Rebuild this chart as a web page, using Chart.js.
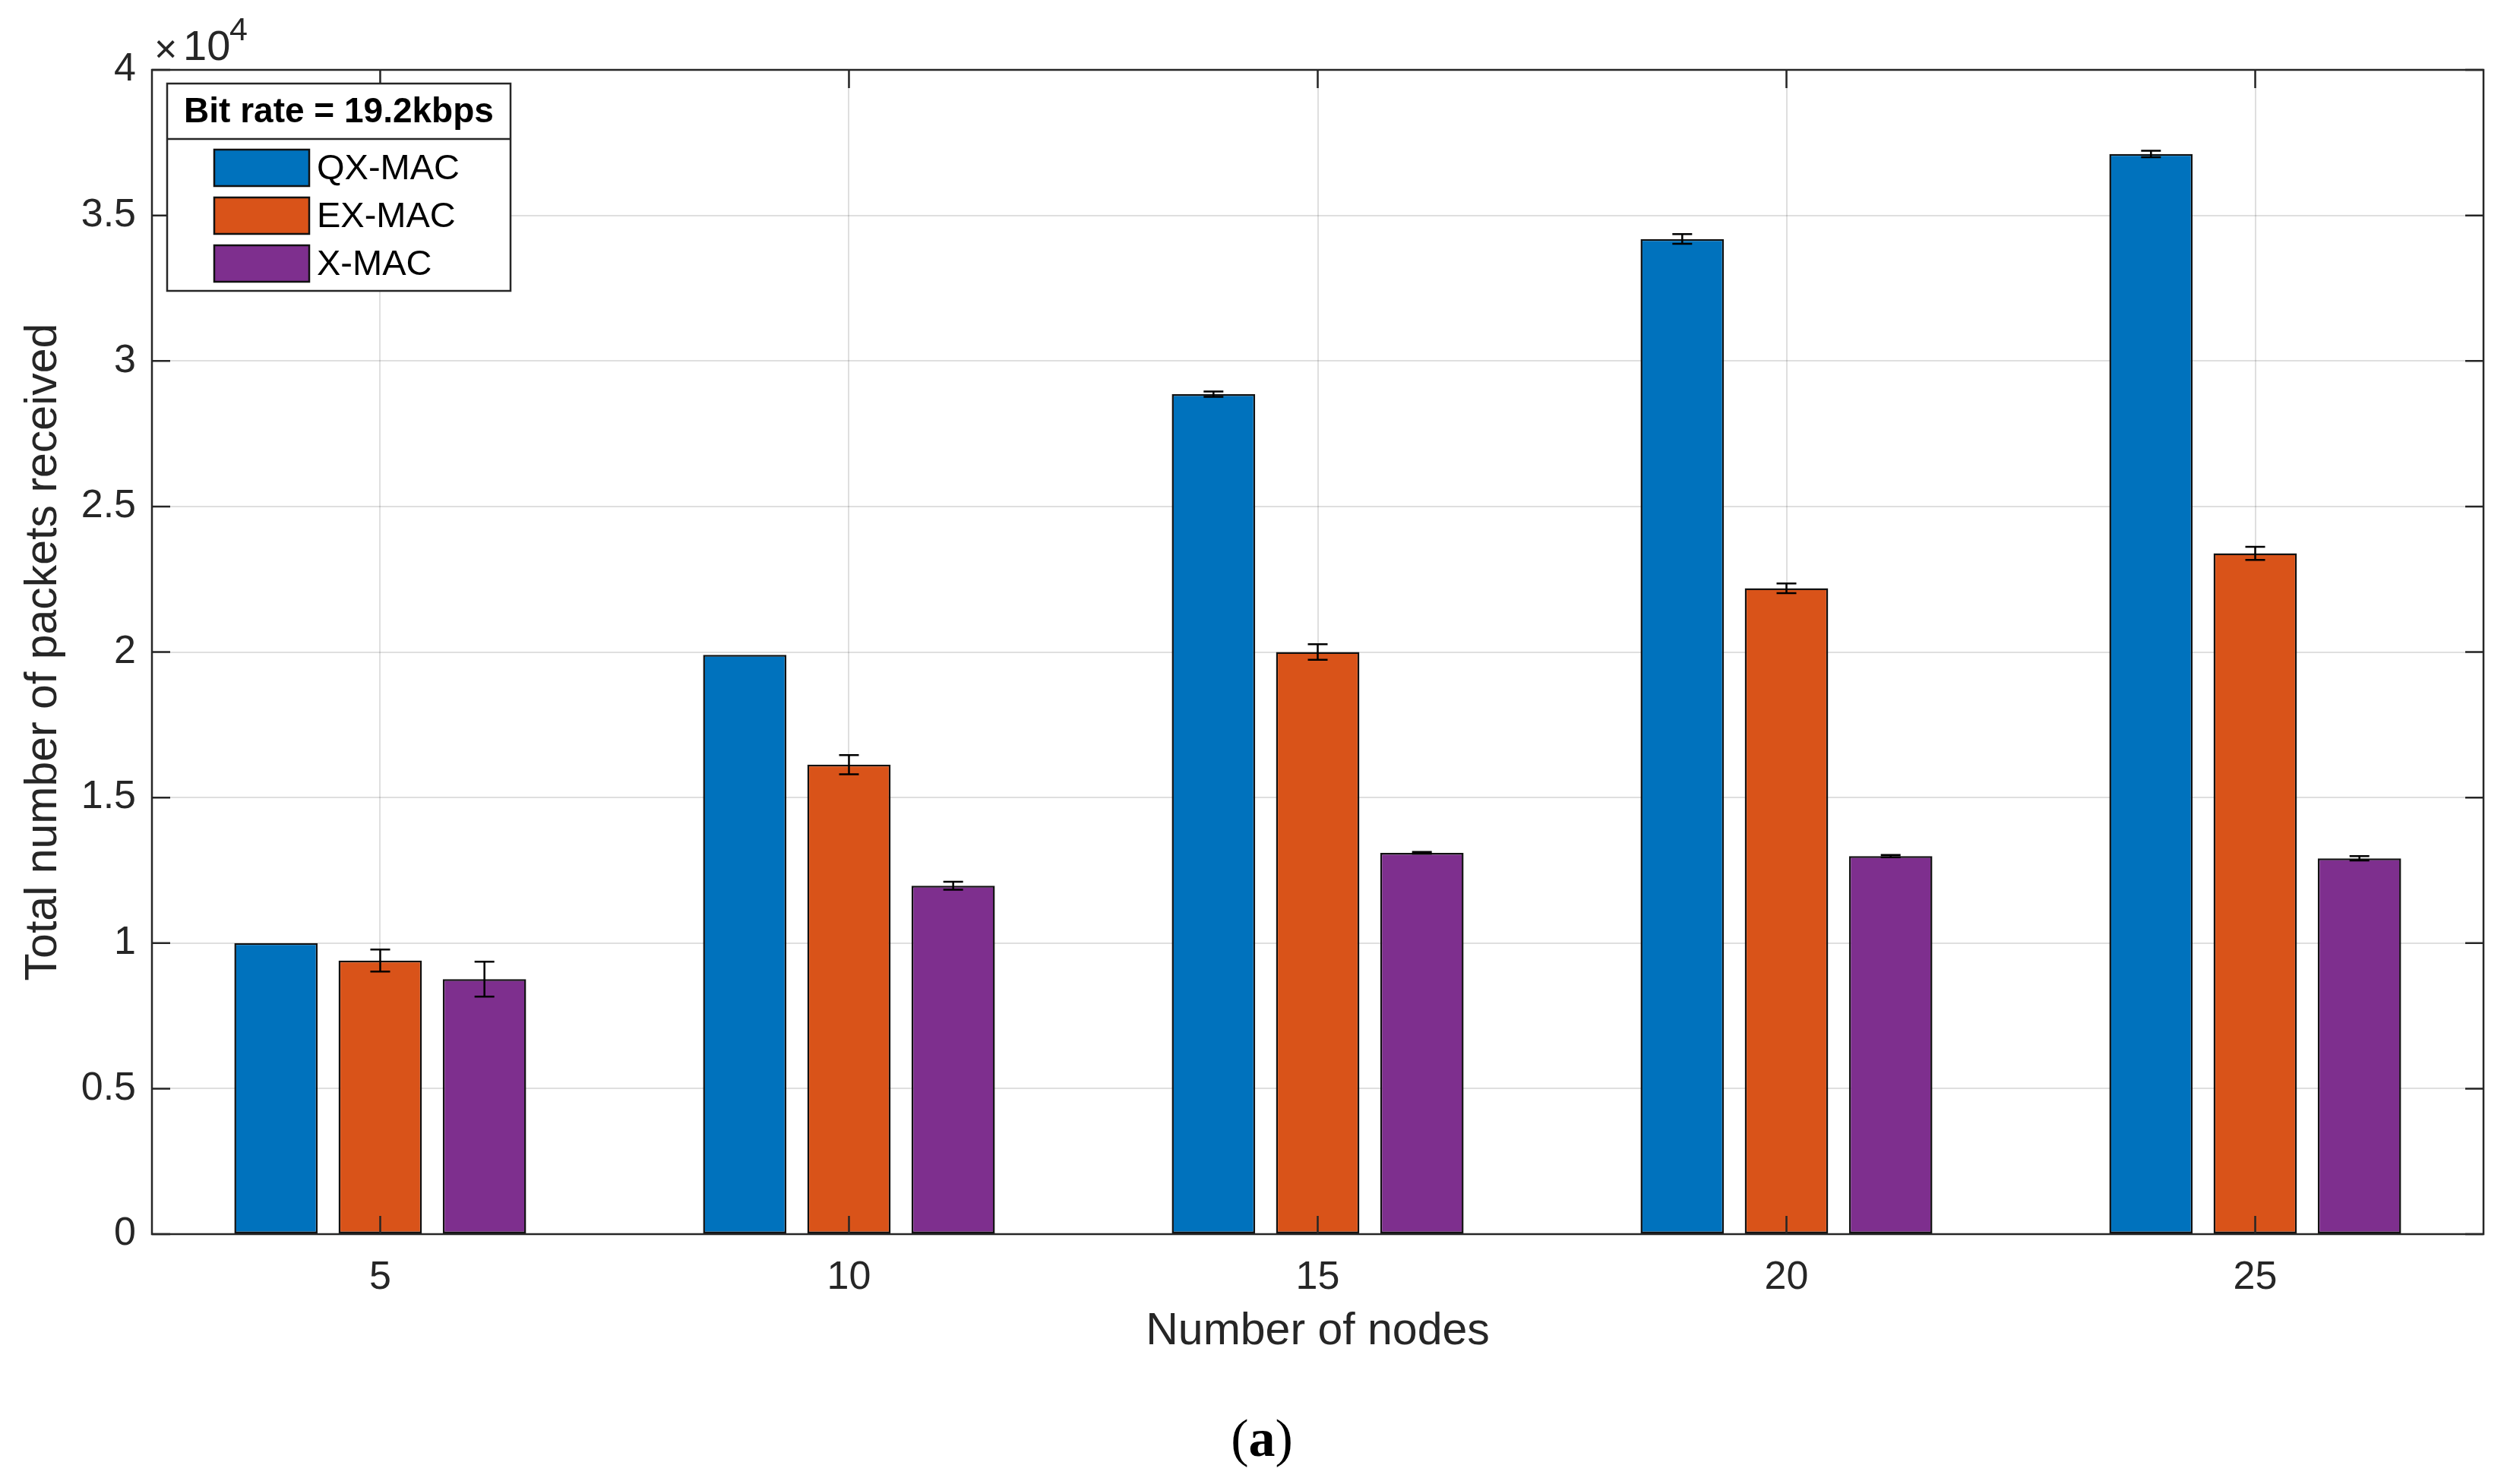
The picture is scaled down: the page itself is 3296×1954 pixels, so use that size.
<!DOCTYPE html>
<html>
<head>
<meta charset="utf-8">
<title>Total number of packets received</title>
<script src="https://cdn.jsdelivr.net/npm/chart.js@4.4.1/dist/chart.umd.min.js"></script>
<style>
  html, body { margin: 0; padding: 0; background: #fff; }
  #wrap { width: 3296px; height: 1954px; position: relative; }
</style>
</head>
<body>
<div id="wrap"><canvas id="packetsChart" width="3296" height="1954"></canvas></div>
<script>
// values (packets), error bars are half-widths
var nodeCounts = ['5', '10', '15', '20', '25'];
var seriesNames = ['QX-MAC', 'EX-MAC', 'X-MAC'];
var qxMac = [10000, 19900, 28860, 34190, 37110];
var exMac = [9400, 16130, 20000, 22190, 23390];
var xMac = [8760, 11970, 13100, 12990, 12910];
var qxErr = [0, 0, 90, 165, 110];
var exErr = [380, 330, 270, 165, 225];
var xErr = [600, 140, 30, 40, 75];
var yTicks = [0, 5000, 10000, 15000, 20000, 25000, 30000, 35000, 40000];
var legendTitle = 'Bit rate = 19.2kbps';
var panelLabel = '(a)';

var SANS = '"Liberation Sans", Arial, Helvetica, sans-serif';
var SERIF = '"Liberation Serif", "Times New Roman", serif';
var AXIS = '#262626';

Chart.defaults.font.family = SANS;
Chart.defaults.color = AXIS;

// error bars on top of the bars
var errorBars = {
    id: 'errorBars',
    afterDatasetsDraw: function (chart) {
        var ctx = chart.ctx, y = chart.scales.y;
        ctx.save();
        ctx.strokeStyle = '#000';
        ctx.lineWidth = 2.5;
        chart.data.datasets.forEach(function (ds, i) {
            var meta = chart.getDatasetMeta(i);
            meta.data.forEach(function (bar, j) {
                var e = ds.errors[j];
                if (!e) return;
                var top = y.getPixelForValue(ds.data[j] + e);
                var bot = y.getPixelForValue(ds.data[j] - e);
                ctx.beginPath();
                ctx.moveTo(bar.x, top); ctx.lineTo(bar.x, bot);
                ctx.moveTo(bar.x - 13, top); ctx.lineTo(bar.x + 13, top);
                ctx.moveTo(bar.x - 13, bot); ctx.lineTo(bar.x + 13, bot);
                ctx.stroke();
            });
        });
        ctx.restore();
    }
};

// matlab style box with inward ticks
var axesBox = {
    id: 'axesBox',
    afterDatasetsDraw: function (chart) {
        var ctx = chart.ctx, a = chart.chartArea;
        var xs = chart.scales.x, ys = chart.scales.y;
        var tl = 24;
        ctx.save();
        ctx.strokeStyle = AXIS;
        ctx.lineWidth = 2.5;
        ctx.strokeRect(a.left, a.top, a.right - a.left, a.bottom - a.top);
        ctx.beginPath();
        xs.ticks.forEach(function (t, i) {
            var px = xs.getPixelForTick(i);
            ctx.moveTo(px, a.bottom); ctx.lineTo(px, a.bottom - tl);
            ctx.moveTo(px, a.top); ctx.lineTo(px, a.top + tl);
        });
        ys.ticks.forEach(function (t) {
            var py = ys.getPixelForValue(t.value);
            ctx.moveTo(a.left, py); ctx.lineTo(a.left + tl, py);
            ctx.moveTo(a.right, py); ctx.lineTo(a.right - tl, py);
        });
        ctx.stroke();
        ctx.restore();
    }
};

var legendBox = {
    id: 'legendBox',
    afterDraw: function (chart) {
        var ctx = chart.ctx, a = chart.chartArea;
        var bx = a.left + 20, by = a.top + 18, bw = 452, bh = 273, head = 73;
        ctx.save();
        ctx.fillStyle = '#fff';
        ctx.fillRect(bx, by, bw, bh);
        ctx.strokeStyle = AXIS;
        ctx.lineWidth = 2.5;
        ctx.strokeRect(bx, by, bw, bh);
        ctx.beginPath();
        ctx.moveTo(bx, by + head); ctx.lineTo(bx + bw, by + head);
        ctx.stroke();

        ctx.fillStyle = '#000';
        ctx.font = 'bold 46px ' + SANS;
        ctx.textAlign = 'center';
        ctx.textBaseline = 'middle';
        ctx.fillText(legendTitle, bx + bw / 2, by + head / 2 + 2);

        ctx.textAlign = 'left';
        ctx.font = '47px ' + SANS;
        chart.data.datasets.forEach(function (ds, i) {
            var cy = by + 111 + i * 63;
            ctx.fillStyle = ds.backgroundColor;
            ctx.fillRect(bx + 62, cy - 24, 125, 48);
            ctx.strokeStyle = '#111';
            ctx.strokeRect(bx + 62, cy - 24, 125, 48);
            ctx.fillStyle = '#000';
            ctx.fillText(ds.label, bx + 197, cy + 2);
        });
        ctx.restore();
    }
};

// exponent above the y axis and the panel letter
var extraText = {
    id: 'extraText',
    afterDraw: function (chart) {
        var ctx = chart.ctx, a = chart.chartArea;
        ctx.save();
        ctx.fillStyle = AXIS;
        ctx.textAlign = 'left';
        ctx.textBaseline = 'alphabetic';
        ctx.font = '52px ' + SANS;
        ctx.fillText('\u00d7', a.left + 3, a.top - 10);
        ctx.font = '56px ' + SANS;
        ctx.fillText('10', a.left + 41, a.top - 13);
        ctx.font = '43px ' + SANS;
        ctx.fillText('4', a.left + 102, a.top - 39);

        ctx.fillStyle = '#000';
        var cx = chart.width / 2 + 13;
        ctx.font = '70px ' + SERIF;
        var wp = ctx.measureText('(').width;
        ctx.font = 'bold 70px ' + SERIF;
        var wa = ctx.measureText('a').width;
        var x0 = cx - (2 * wp + wa) / 2, base = 1917;
        ctx.font = '70px ' + SERIF;
        ctx.fillText('(', x0, base);
        ctx.fillText(')', x0 + wp + wa, base);
        ctx.font = 'bold 70px ' + SERIF;
        ctx.fillText('a', x0 + wp, base);
        ctx.restore();
    }
};

new Chart(document.getElementById('packetsChart').getContext('2d'), {
    type: 'bar',
    data: {
        labels: nodeCounts,
        datasets: [
            { label: seriesNames[0], data: qxMac, errors: qxErr, backgroundColor: '#0072BD' },
            { label: seriesNames[1], data: exMac, errors: exErr, backgroundColor: '#D95319' },
            { label: seriesNames[2], data: xMac, errors: xErr, backgroundColor: '#7E2F8E' }
        ]
    },
    options: {
        responsive: false,
        animation: false,
        devicePixelRatio: 1,
        layout: { padding: { left: 0, right: 27, top: 92, bottom: 0 } },
        datasets: {
            bar: {
                borderColor: '#111',
                borderWidth: 2.5,
                borderSkipped: false,
                categoryPercentage: 0.667,
                barPercentage: 0.80
            }
        },
        plugins: {
            legend: { display: false },
            tooltip: { enabled: false }
        },
        scales: {
            x: {
                offset: true,
                // matlab leaves a little less than half a step at each end
                afterBuildTicks: function (s) {
                    s._startValue = -0.487;
                    s._valueRange = 4.974;
                },
                grid: { offset: false, color: 'rgba(38,38,38,0.15)', lineWidth: 2, drawTicks: false },
                border: { display: false },
                ticks: { color: AXIS, font: { size: 52 }, padding: 26, maxRotation: 0 },
                title: {
                    display: true, text: 'Number of nodes', color: AXIS,
                    font: { size: 59 }, padding: { top: 0, bottom: 165 }
                },
                afterFit: function (s) { s.height = 329; }
            },
            y: {
                min: 0, max: 40000,
                afterBuildTicks: function (s) {
                    s.ticks = yTicks.map(function (v) { return { value: v }; });
                },
                grid: { color: 'rgba(38,38,38,0.15)', lineWidth: 2, drawTicks: false },
                border: { display: false },
                ticks: {
                    color: AXIS, font: { size: 52 }, padding: 21,
                    callback: function (v) { return String(v / 10000); }
                },
                title: {
                    display: true, text: 'Total number of packets received', color: AXIS,
                    font: { size: 59 }, padding: { top: 22, bottom: 0 }
                },
                afterFit: function (s) { s.width = 200; }
            }
        }
    },
    plugins: [errorBars, axesBox, legendBox, extraText]
});
</script>
</body>
</html>
